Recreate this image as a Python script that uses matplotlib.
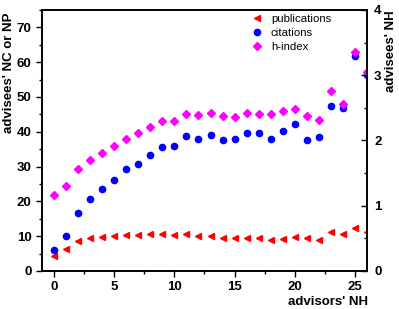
import matplotlib
matplotlib.use("Agg")
import matplotlib.pyplot as plt
from matplotlib.ticker import MultipleLocator

plt.rcParams['font.family'] = ['Liberation Sans', 'DejaVu Sans']

advisor_nh = list(range(0, 27))
publications = [4.4, 6.3, 8.6, 9.4, 9.7, 10.1, 10.3, 10.3, 10.7, 10.6, 10.3, 10.7, 10.0,
                10.0, 9.5, 9.4, 9.4, 9.5, 8.9, 9.3, 9.9, 9.5, 9.0, 11.1, 10.7, 12.3, 11.1]
citations = [6.1, 10.1, 16.8, 20.7, 23.5, 26.2, 29.2, 30.8, 33.3, 35.7, 36.0, 38.8, 37.9,
             39.1, 37.6, 37.8, 39.7, 39.5, 38.0, 40.1, 42.3, 37.6, 38.6, 47.4, 46.8, 61.8, 56.4]
hindex = [21.8, 24.4, 29.2, 31.8, 33.9, 35.9, 37.9, 39.6, 41.5, 43.2, 43.1, 45.2, 44.8,
          45.3, 44.6, 44.3, 45.5, 45.0, 45.2, 46.1, 46.4, 44.4, 43.5, 51.6, 47.9, 62.8, 57.3]

fig = plt.figure(figsize=(3.99, 3.09), dpi=100)
ax = fig.add_axes([0.105, 0.123, 0.815, 0.845])

ax.plot(advisor_nh, publications, linestyle='none', marker='<', color='red',
        markersize=4.6, label='publications', zorder=3)
ax.plot(advisor_nh, citations, linestyle='none', marker='o', color='blue',
        markersize=4.5, label='citations', zorder=3)
ax.plot(advisor_nh, hindex, linestyle='none', marker='D', color='magenta',
        markersize=3.7, label='h-index', zorder=4)

ax.set_xlim(-1, 26)
ax.set_ylim(0, 75)
ax.xaxis.set_major_locator(MultipleLocator(5))
ax.xaxis.set_minor_locator(MultipleLocator(2.5))
ax.yaxis.set_major_locator(MultipleLocator(10))
ax.yaxis.set_minor_locator(MultipleLocator(5))
ax.tick_params(axis='both', which='major', direction='out', length=4, width=1,
               labelsize=9.5, top=False, right=False)
ax.tick_params(axis='both', which='minor', direction='out', length=2.5, width=1,
               top=False, right=False)
for lab in ax.get_xticklabels() + ax.get_yticklabels():
    lab.set_fontweight('bold')
for sp in ax.spines.values():
    sp.set_linewidth(1.2)

ax.set_ylabel("advisees' NC or NP", fontsize=9.5, fontweight='bold')
ax.yaxis.set_label_coords(-0.083, 0.759)
ax.set_xlabel("advisors' NH", fontsize=9.5, fontweight='bold')
ax.xaxis.set_label_coords(1.003, -0.094)
ax.xaxis.label.set_horizontalalignment('right')

ax2 = ax.twinx()
ax2.set_ylim(0, 4)
ax2.yaxis.set_major_locator(MultipleLocator(1))
ax2.yaxis.set_minor_locator(MultipleLocator(0.5))
ax2.tick_params(axis='y', which='major', direction='in', length=4, width=1, labelsize=9.5, pad=5)
ax2.tick_params(axis='y', which='minor', direction='in', length=2.5, width=1)
for lab in ax2.get_yticklabels():
    lab.set_fontweight('bold')
for sp in ax2.spines.values():
    sp.set_linewidth(1.2)
ax2.set_ylabel("advisees' NH", fontsize=9.5, fontweight='bold')
ax2.yaxis.set_label_coords(1.055, 0.84)

leg = ax.legend(loc='upper left', bbox_to_anchor=(0.627, 1.0), frameon=False,
                fontsize=8.2, handletextpad=0.6, labelspacing=0.33, handlelength=1.2,
                borderaxespad=0.0)

fig.savefig('out.png', dpi=100)
